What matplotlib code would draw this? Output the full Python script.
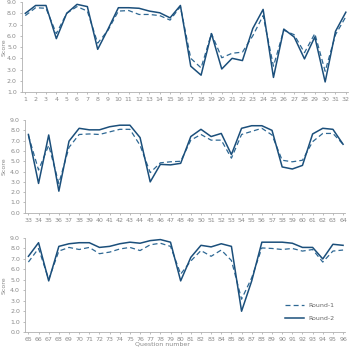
import numpy as np
import matplotlib.pyplot as plt

# question numbers per panel
q_top = list(range(1, 33))
q_mid = list(range(33, 65))
q_bot = list(range(65, 97))

round1_top = [7.8, 8.5, 8.45, 6.2, 8.0, 8.6, 8.2, 5.35, 6.5, 8.2, 8.25, 7.9, 7.9, 7.8, 7.4, 8.6,
              4.0, 3.15, 6.2, 4.05, 4.45, 4.55, 6.0, 7.8, 3.3, 6.5, 6.1, 4.5, 6.2, 2.85, 6.1, 7.7]
round2_top = [8.0, 8.7, 8.7, 5.75, 8.0, 8.8, 8.6, 4.8, 6.6, 8.5, 8.5, 8.45, 8.2, 8.05, 7.6, 8.7,
              3.3, 2.5, 6.2, 3.05, 4.0, 3.8, 6.65, 8.35, 2.3, 6.6, 5.9, 3.95, 5.9, 1.9, 6.4, 8.1]

round1_mid = [7.5, 4.15, 6.55, 2.85, 6.35, 7.6, 7.65, 7.6, 7.85, 8.1, 8.1, 6.55, 3.9, 4.85, 4.95, 5.0,
              7.05, 7.6, 7.05, 7.05, 5.3, 7.6, 7.9, 8.2, 7.55, 5.1, 4.95, 5.1, 6.9, 7.7, 7.7, 6.65]
round2_mid = [7.6, 2.85, 7.55, 2.1, 6.95, 8.2, 8.05, 8.05, 8.35, 8.5, 8.5, 7.3, 3.0, 4.7, 4.65, 4.8,
              7.4, 8.1, 7.4, 7.7, 5.65, 8.2, 8.45, 8.45, 8.0, 4.45, 4.25, 4.6, 7.65, 8.2, 8.1, 6.65]

round1_bot = [6.7, 8.0, 5.05, 7.75, 8.1, 7.9, 8.1, 7.5, 7.65, 7.95, 8.1, 7.8, 8.35, 8.5, 8.2, 5.55,
              6.8, 7.8, 7.25, 7.85, 6.85, 3.15, 5.2, 8.05, 8.0, 7.9, 8.0, 7.75, 7.9, 6.7, 7.75, 7.85]
round2_bot = [7.25, 8.55, 4.9, 8.2, 8.45, 8.55, 8.55, 8.1, 8.2, 8.45, 8.6, 8.5, 8.75, 8.85, 8.6, 4.9,
              7.15, 8.3, 8.15, 8.45, 8.2, 2.0, 4.9, 8.6, 8.6, 8.6, 8.5, 8.1, 8.1, 7.0, 8.4, 8.3]

c1 = '#2e6894'
c2 = '#1b4f7b'
grey = '#8a8a8a'


def style_axis(ax, q, ymin, label_x):
    ax.set_xlim(q[0] - 0.35, q[-1] + 0.2)
    ax.set_ylim(ymin, 9.0)
    ax.set_xticks(q)
    ax.set_xticklabels([str(v) for v in q])
    ax.set_yticks(np.arange(ymin, 9.01, 1.0))
    ax.set_yticklabels(['%.1f' % v for v in np.arange(ymin, 9.01, 1.0)])
    for s in ['top', 'right']:
        ax.spines[s].set_visible(False)
    for s in ['left', 'bottom']:
        ax.spines[s].set_color('#b0b0b0')
        ax.spines[s].set_linewidth(0.6)
    ax.tick_params(axis='both', labelsize=4.5, colors=grey, length=1.5, width=0.4, pad=2)
    ax.set_ylabel('Score', fontsize=4.5, color=grey)
    ax.yaxis.set_label_coords(label_x, 0.5)


fig = plt.figure(figsize=(3.5, 3.5), dpi=100)
ax1 = fig.add_axes([0.062, 0.737, 0.932, 0.257])
ax2 = fig.add_axes([0.071, 0.392, 0.915, 0.265])
ax3 = fig.add_axes([0.071, 0.051, 0.915, 0.269])

panels = [(ax1, q_top, round1_top, round2_top, 1.0, -0.045),
          (ax2, q_mid, round1_mid, round2_mid, 0.0, -0.058),
          (ax3, q_bot, round1_bot, round2_bot, 0.0, -0.058)]

for ax, q, r1, r2, ymin, lx in panels:
    ax.plot(q, r1, color=c1, lw=0.9, ls=(0, (4, 2.5)), label='Round-1')
    ax.plot(q, r2, color=c2, lw=1.1, label='Round-2')
    style_axis(ax, q, ymin, lx)

ax3.set_xlabel('Question number', fontsize=4.5, color=grey)
ax3.xaxis.set_label_coords(0.43, -0.1)
leg = ax3.legend(loc='lower right', bbox_to_anchor=(0.985, 0.06), frameon=False,
                 fontsize=4.5, handlelength=3.0, labelspacing=1.2)
for t in leg.get_texts():
    t.set_color('#666666')

fig.savefig('out.png', dpi=100)
